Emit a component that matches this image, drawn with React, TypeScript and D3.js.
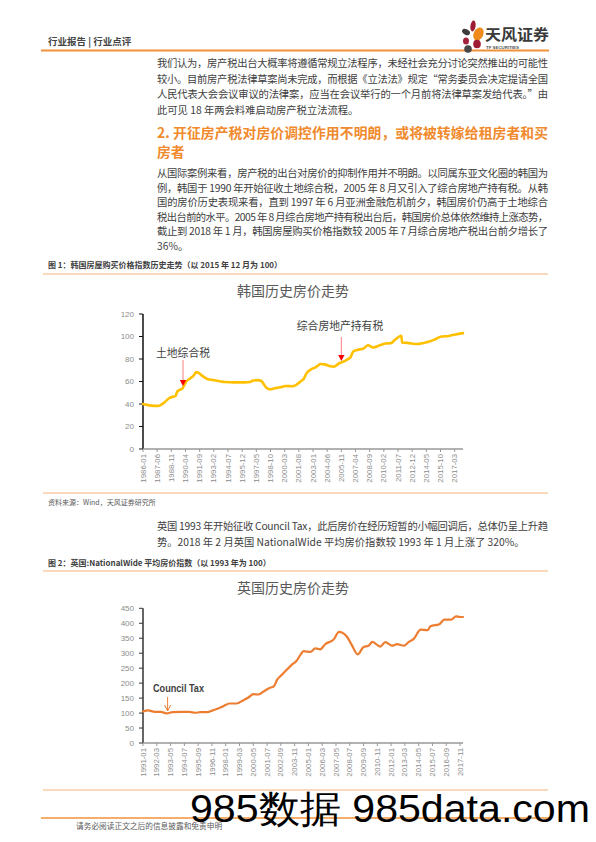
import React from 'react';
import * as d3 from 'd3';

// ---------- Data ----------
const KR_DATES = [
  '1986-01','1986-07','1987-03','1987-07','1988-01','1988-05','1988-09','1989-01','1989-04','1989-06',
  '1989-09','1989-12','1990-02','1990-05','1990-09','1991-02','1991-05','1991-08','1992-01','1992-07',
  '1993-01','1993-09','1994-03','1995-03','1996-03','1996-09','1997-01','1997-06','1997-11','1998-02',
  '1998-05','1998-10','1999-02','1999-10','2000-04','2000-12','2001-04','2001-10','2002-02','2002-05',
  '2002-10','2003-04','2003-10','2004-04','2004-10','2005-02','2005-08','2006-01','2006-06','2006-10',
  '2007-01','2007-06','2008-02','2008-07','2009-01','2009-10','2010-04','2010-10','2011-04','2011-10',
  '2011-11','2011-12','2012-06','2013-06','2014-06','2015-02','2015-10','2016-08','2017-04','2018-01'
];
const KR_VALUES = [
  40, 39, 38.3, 38.2, 40.5, 43, 45.5, 46.5, 47, 51,
  52.5, 53.5, 56, 60, 62.5, 65.5, 68.3, 67.5, 64.5, 62,
  61.3, 60.3, 59.5, 59.2, 59.2, 59.5, 60.8, 61.2, 60.5, 57.5,
  54.5, 53, 53.8, 54.8, 56, 55.8, 56.5, 60, 62.5, 67,
  70.5, 72.5, 75.5, 75, 73.5, 73.2, 76, 77.5, 79.5, 81.5,
  86.5, 88, 89.5, 92.2, 90.3, 92.4, 93.8, 94, 97.5, 100.5,
  100.6, 94.5, 94.3, 93.3, 95, 97, 99.8, 100.5, 101.8, 103
];
const KR_TICK_LABELS = [
  '1986-01','1987-06','1988-11','1990-04','1991-09','1993-02','1994-07','1995-12','1997-05','1998-10',
  '2000-03','2001-08','2003-01','2004-06','2005-11','2007-04','2008-09','2010-02','2011-07','2012-12',
  '2014-05','2015-10','2017-03'
];
const KR_Y_TICKS = [0, 20, 40, 60, 80, 100, 120];

const UK_DATES = [
  '1991-01','1991-06','1992-01','1992-07','1993-01','1993-07','1994-05','1994-12','1995-06','1995-11',
  '1996-06','1996-12','1997-06','1997-11','1998-05','1998-12','1999-07','1999-12','2000-05','2000-10',
  '2001-03','2001-09','2002-02','2002-05','2002-10','2003-03','2003-08','2004-01','2004-05','2004-08',
  '2005-03','2005-08','2006-01','2006-06','2007-03','2007-08','2007-11','2008-04','2008-09','2009-03',
  '2009-09','2010-02','2010-06','2011-02','2011-07','2012-02','2012-07','2013-02','2013-07','2013-12',
  '2014-07','2015-02','2015-05','2016-02','2016-07','2017-02','2017-07','2017-11','2018-02'
];
const UK_VALUES = [
  105, 109, 104, 104, 99, 103, 104, 104, 101, 103,
  103, 109, 116, 124, 132, 132, 143, 152, 163, 162,
  171, 183, 190, 210, 228, 245, 261, 275, 295, 307,
  304, 316, 313, 330, 347, 371, 369, 356, 328, 296,
  321, 325, 338, 322, 337, 325, 330, 325, 338, 348,
  379, 377, 390, 397, 412, 412, 423, 421, 421
];
const UK_TICK_LABELS = [
  '1991-01','1992-03','1993-05','1994-07','1995-09','1996-11','1998-01','1999-03','2000-05','2001-07',
  '2002-09','2003-11','2005-01','2006-03','2007-05','2008-07','2009-09','2010-11','2012-01','2013-03',
  '2014-05','2015-07','2016-09','2017-11'
];
const UK_Y_TICKS = [0, 50, 100, 150, 200, 250, 300, 350, 400, 450];

// ---------- Text ----------
const PARA1 = [
  '我们认为，房产税出台大概率将遵循常规立法程序，未经社会充分讨论突然推出的可能性',
  '较小。目前房产税法律草案尚未完成，而根据《立法法》规定“常务委员会决定提请全国',
  '人民代表大会会议审议的法律案，应当在会议举行的一个月前将法律草案发给代表。”由',
  '此可见 18 年两会料难启动房产税立法流程。'
];
const HEADING = [
  '2. 开征房产税对房价调控作用不明朗，或将被转嫁给租房者和买',
  '房者'
];
const PARA2 = [
  '从国际案例来看，房产税的出台对房价的抑制作用并不明朗。以同属东亚文化圈的韩国为',
  '例，韩国于 1990 年开始征收土地综合税，2005 年 8 月又引入了综合房地产持有税。从韩',
  '国的房价历史表现来看，直到 1997 年 6 月亚洲金融危机前夕，韩国房价仍高于土地综合',
  '税出台前的水平。2005 年 8 月综合房地产持有税出台后，韩国房价总体依然维持上涨态势，',
  '截止到 2018 年 1 月，韩国房屋购买价格指数较 2005 年 7 月综合房地产税出台前夕增长了',
  '36%。'
];
const PARA3 = [
  '英国 1993 年开始征收 Council Tax，此后房价在经历短暂的小幅回调后，总体仍呈上升趋',
  '势。2018 年 2 月英国 NationalWide 平均房价指数较 1993 年 1 月上涨了 320%。'
];

const CJK = '"Noto Sans CJK SC", "Noto Sans", sans-serif';
const NUM = '"Liberation Sans", Arial, sans-serif';
const ORANGE_LINE = '#F5B27A';

const TX = 157;
const TW = 391;

function monthIdx(s: string, start: string) {
  const [y, m] = s.split('-').map(Number);
  const [sy, sm] = start.split('-').map(Number);
  return (y - sy) * 12 + (m - sm);
}

function Para({ lines, y0, step, size = 10.3, color = '#404040', weight = 400, justifyLast = false }: any) {
  return (
    <g>
      {lines.map((l: string, i: number) => {
        const full = i < lines.length - 1 || justifyLast;
        return (
          <text key={i} x={TX} y={y0 + i * step} fontSize={size} fill={color} fontWeight={weight}
            fontFamily={CJK} {...(full ? { textLength: TW, lengthAdjust: 'spacing' } : {})}>
            {l}
          </text>
        );
      })}
    </g>
  );
}

function LineChart({ dates, values, start, end, ticks, yTicks, yMax, yBottom, yTop, color, strokeW, axisColor }: any) {
  const x = d3.scaleLinear().domain([0, monthIdx(end, start)]).range([143, 463]);
  const y = d3.scaleLinear().domain([0, yMax]).range([yBottom, yTop]);
  const pts: [number, number][] = dates.map((d: string, i: number) => [monthIdx(d, start), values[i]]);
  const line = d3.line<[number, number]>().x(d => x(d[0])).y(d => y(d[1])).curve(d3.curveMonotoneX);
  return (
    <g>
      <line x1={143} x2={143} y1={yTop} y2={yBottom} stroke={axisColor} strokeWidth={1.5} />
      {yTicks.map((t: number) => (
        <g key={t}>
          <line x1={139} x2={143} y1={y(t)} y2={y(t)} stroke={axisColor} strokeWidth={1} />
          <text x={134} y={y(t)} dy="0.33em" textAnchor="end" fontSize={8} fill="#8C8C8C" fontFamily={NUM}>{t}</text>
        </g>
      ))}
      <line x1={143} x2={463} y1={yBottom} y2={yBottom} stroke="#999999" strokeWidth={1.5} />
      {ticks.map((t: string) => {
        const xx = x(monthIdx(t, start));
        return (
          <g key={t}>
            <line x1={xx} x2={xx} y1={yBottom} y2={yBottom + 3} stroke="#999999" strokeWidth={1} />
            <text transform={`translate(${xx},${yBottom + 5}) rotate(-90)`} textAnchor="end" dy="0.33em"
              fontSize={7.8} fill="#8C8C8C" fontFamily={NUM}>{t}</text>
          </g>
        );
      })}
      <path d={line(pts) || ''} fill="none" stroke={color} strokeWidth={strokeW} strokeLinejoin="round" strokeLinecap="round" />
    </g>
  );
}

export default function App() {
  const krX = d3.scaleLinear().domain([0, monthIdx('2018-01', '1986-01')]).range([143, 463]);
  const ukX = d3.scaleLinear().domain([0, monthIdx('2018-02', '1991-01')]).range([143, 463]);
  const a1 = krX(monthIdx('1990-01', '1986-01'));
  const a2 = krX(monthIdx('2005-11', '1986-01'));
  const a3 = ukX(monthIdx('1993-02', '1991-01'));
  return (
    <svg width={596} height={842} style={{ position: 'absolute', left: 0, top: 0, background: '#fff' }}>
      <rect width={596} height={842} fill="#fff" />
      <text x={48} y={45} fontSize={9.5} fontWeight={700} fill="#444" fontFamily={CJK}>行业报告 | 行业点评</text>
      <line x1={41} x2={549} y1={50.5} y2={50.5} stroke="#F0923A" strokeWidth={2} />
      <g>
        <ellipse cx={473} cy={26} rx={2.6} ry={5.5} fill="#9E1C33" transform="rotate(8 473 26)" />
        <ellipse cx={466} cy={32} rx={4.2} ry={2.7} fill="#3C3C3C" transform="rotate(28 466 32)" />
        <ellipse cx={478.5} cy={34} rx={4.8} ry={6.8} fill="#F08A1C" transform="rotate(25 478.5 34)" />
        <ellipse cx={466} cy={41} rx={3} ry={3.6} fill="#A3223B" />
        <ellipse cx={477} cy={44} rx={3.8} ry={4.3} fill="#9E1C33" />
        <circle cx={468} cy={49} r={3.8} fill="#474747" />
        <text x={485} y={40} fontSize={15} fontWeight={700} fill="#3A3A3A" fontFamily={CJK} textLength={64} lengthAdjust="spacingAndGlyphs">天风证券</text>
        <text x={486} y={48.5} fontSize={4.4} fontWeight={700} fill="#555" fontFamily={NUM}>TF SECURITIES</text>
      </g>

      <Para lines={PARA1} y0={66.7} step={15.8} />
      <Para lines={HEADING} y0={138} step={18.5} size={13.8} color="#F08A2C" weight={700} />
      <Para lines={PARA2} y0={177} step={14.5} />

      <text x={48} y={268} fontSize={8} fontWeight={700} fill="#404040" fontFamily={CJK}>图 1：韩国房屋购买价格指数历史走势（以 2015 年 12 月为 100）</text>
      <line x1={43} x2={548} y1={274} y2={274} stroke={ORANGE_LINE} strokeWidth={1} />
      <text x={293} y={296} textAnchor="middle" fontSize={14} fill="#595959" fontFamily={CJK}>韩国历史房价走势</text>
      <LineChart dates={KR_DATES} values={KR_VALUES} start="1986-01" end="2018-01" ticks={KR_TICK_LABELS}
        yTicks={KR_Y_TICKS} yMax={120} yBottom={449} yTop={314} color="#FFC000" strokeW={2.6} axisColor="#111" />
      <text x={183} y={356.5} textAnchor="middle" fontSize={10.8} fill="#404040" fontFamily={CJK}>土地综合税</text>
      <line x1={a1} x2={a1} y1={360} y2={381} stroke="#FF7C7C" strokeWidth={1} />
      <path d={`M${a1 - 3.2},${380} L${a1 + 3.2},${380} L${a1},${386} Z`} fill="#FF0000" />
      <text x={340} y={330} textAnchor="middle" fontSize={10.8} fill="#404040" fontFamily={CJK}>综合房地产持有税</text>
      <line x1={a2} x2={a2} y1={337} y2={356} stroke="#FF7C7C" strokeWidth={1} />
      <path d={`M${a2 - 3.2},${355} L${a2 + 3.2},${355} L${a2},${361} Z`} fill="#FF0000" />
      <line x1={43} x2={548} y1={493} y2={493} stroke={ORANGE_LINE} strokeWidth={1} />
      <text x={48} y={504.5} fontSize={7} fill="#595959" fontFamily={CJK}>资料来源：Wind，天风证券研究所</text>

      <Para lines={PARA3} y0={529.7} step={16} />

      <text x={48} y={566} fontSize={8} fontWeight={700} fill="#404040" fontFamily={CJK}>图 2：英国:NationalWide 平均房价指数（以 1993 年为 100）</text>
      <line x1={43} x2={548} y1={571} y2={571} stroke={ORANGE_LINE} strokeWidth={1} />
      <text x={293} y={593} textAnchor="middle" fontSize={14} fill="#595959" fontFamily={CJK}>英国历史房价走势</text>
      <LineChart dates={UK_DATES} values={UK_VALUES} start="1991-01" end="2018-02" ticks={UK_TICK_LABELS}
        yTicks={UK_Y_TICKS} yMax={450} yBottom={743} yTop={608.3} color="#ED7D31" strokeW={2.2} axisColor="#333" />
      <text x={153} y={692} fontSize={10} fontWeight={700} fill="#404040" fontFamily={NUM} textLength={51} lengthAdjust="spacingAndGlyphs">Council Tax</text>
      <line x1={a3} x2={a3} y1={697} y2={710} stroke="#ED7D31" strokeWidth={1} />
      <path d={`M${a3 - 3},${705} L${a3},${711} L${a3 + 3},${705}`} fill="none" stroke="#ED7D31" strokeWidth={1} />
      <line x1={43} x2={548} y1={790} y2={790} stroke={ORANGE_LINE} strokeWidth={1} />

      <line x1={41} x2={549} y1={818} y2={818} stroke="#F0923A" strokeWidth={1.5} />
      <text x={76} y={829} fontSize={7.7} fill="#595959" fontFamily={CJK}>请务必阅读正文之后的信息披露和免责申明</text>
      <text x={190} y={822} fontSize={38} fill="#000" fontFamily={NUM} textLength={400} lengthAdjust="spacingAndGlyphs">985数据 985data.com</text>
    </svg>
  );
}
